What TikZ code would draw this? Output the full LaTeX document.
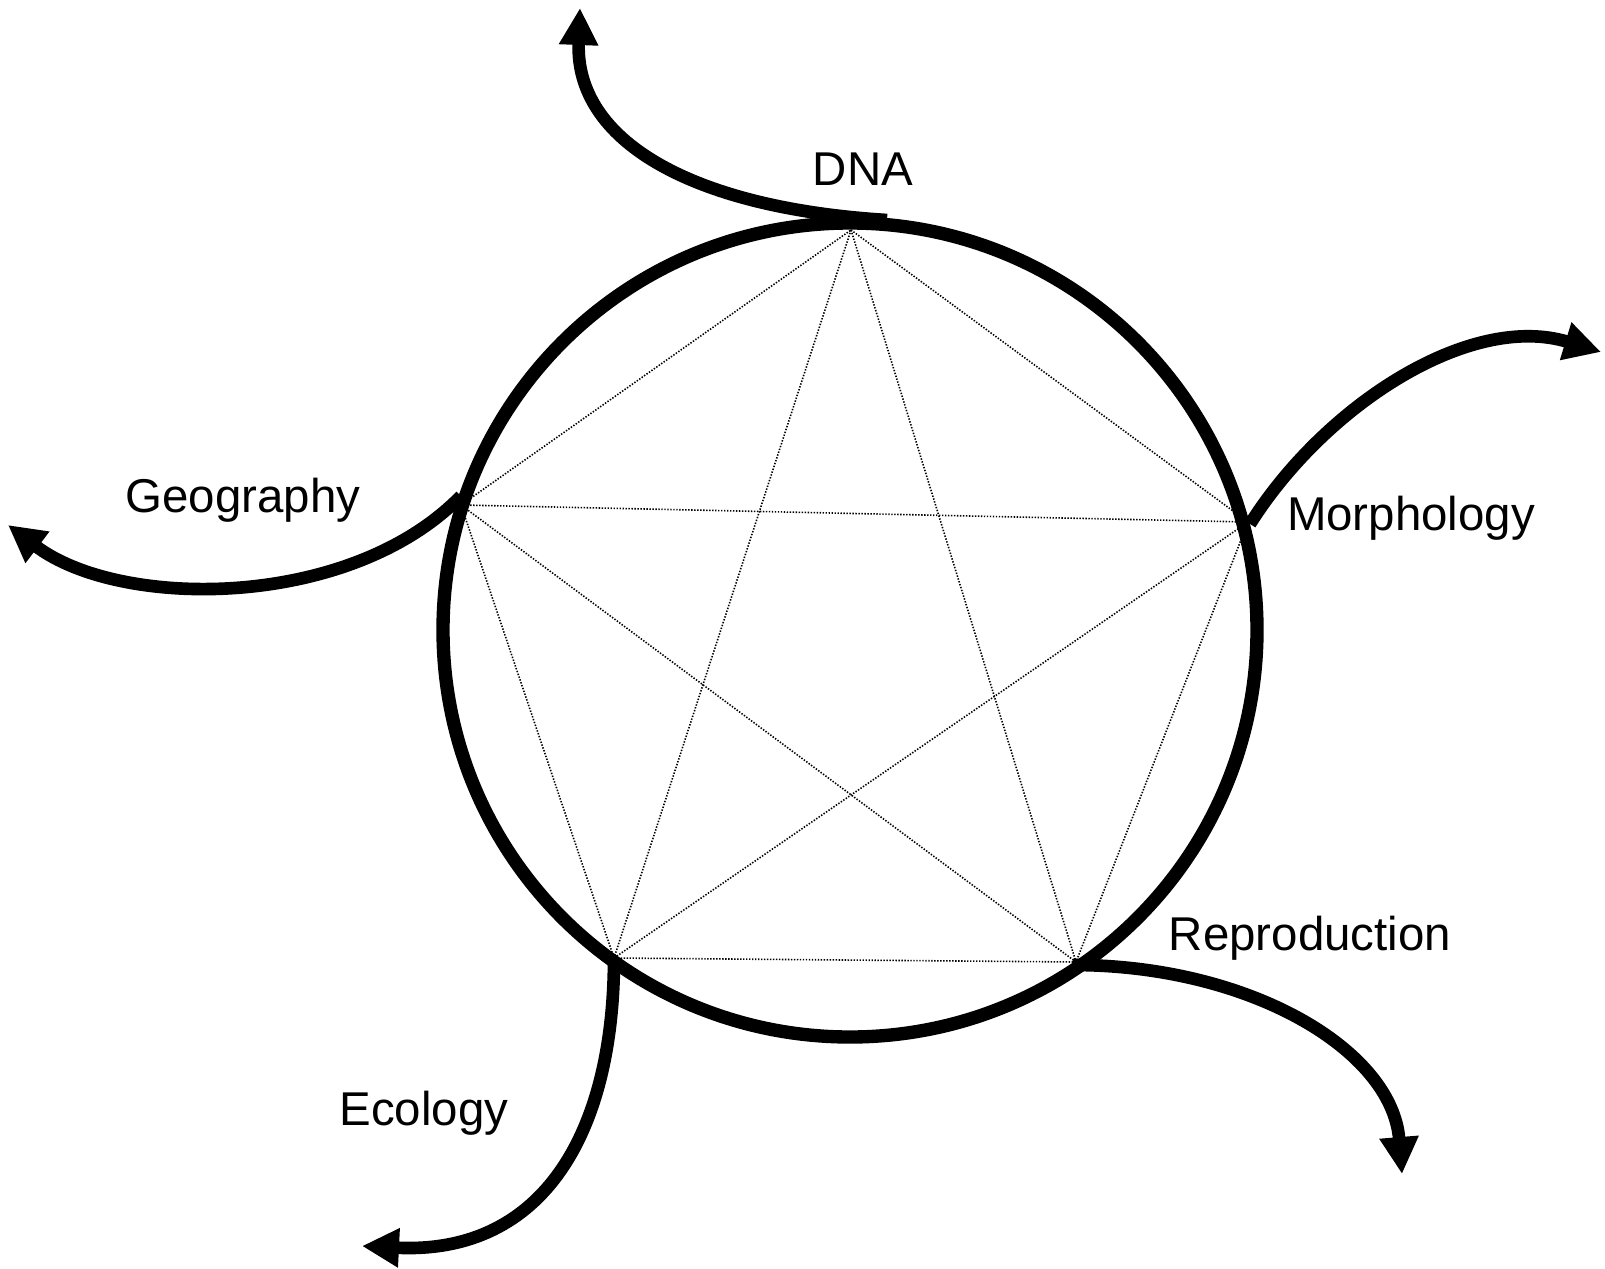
\documentclass[tikz,border=0pt]{standalone}
\usepackage{fontspec}
\setmainfont{Liberation Sans}
\usetikzlibrary{arrows.meta}
\begin{document}
\begin{tikzpicture}[x=0.02cm, y=-0.02cm,
  ring/.style={line width=7.6pt},
  chord/.style={line width=0.9pt, dash pattern=on 0.8pt off 0.9pt},
  flow/.style={line width=7.2pt, -{Triangle[length=0.74cm, width=0.74cm]}},
  lbl/.style={anchor=base, inner sep=0pt, font=\fontsize{27}{32}\selectfont}]
\useasboundingbox (0,0) rectangle (1605,1268);
\coordinate (circ) at (850,630);
\draw[ring] (circ) circle[radius=407];
% pentagon vertices
\coordinate (vT) at (851,230);
\coordinate (vR) at (1248,522);
\coordinate (vBR) at (1076,962);
\coordinate (vBL) at (614,958);
\coordinate (vL) at (461,505);
% chords
\foreach \a/\b in {vT/vR, vR/vBR, vBR/vBL, vBL/vL, vL/vT, vT/vBR, vT/vBL, vR/vL, vR/vBL, vL/vBR}
  \draw[chord] (\a) -- (\b);
% arrow ends
\coordinate (eDNA) at (580,8);
\coordinate (eMor) at (1601,352);
\coordinate (eGeo) at (8,525);
\coordinate (eRep) at (1402,1174);
\coordinate (eEco) at (362,1246);
\coordinate (sDNA) at (887,220);
\coordinate (sMor) at (1250,524);
\coordinate (sGeo) at (461,496);
\coordinate (sRep) at (1073,965);
% arrows
\draw[flow] (sDNA) .. controls (690,208) and (575,140) .. (eDNA);
\draw[flow] (sMor) .. controls (1325,405) and (1470,312) .. (eMor);
\draw[flow] (sGeo) .. controls (350,610) and (120,610) .. (eGeo);
\draw[flow] (sRep) .. controls (1250,965) and (1392,1050) .. (eRep);
\draw[flow] (vBL) .. controls (614,1130) and (545,1255) .. (eEco);
% labels
\node[lbl] (tDNA) at (863,185) {DNA};
\node[lbl] (tMor) at (1411,530) {Morphology};
\node[lbl] (tGeo) at (243,512) {Geography};
\node[lbl] (tRep) at (1310,950) {Reproduction};
\node[lbl] (tEco) at (424,1125) {Ecology};
\end{tikzpicture}
\end{document}
